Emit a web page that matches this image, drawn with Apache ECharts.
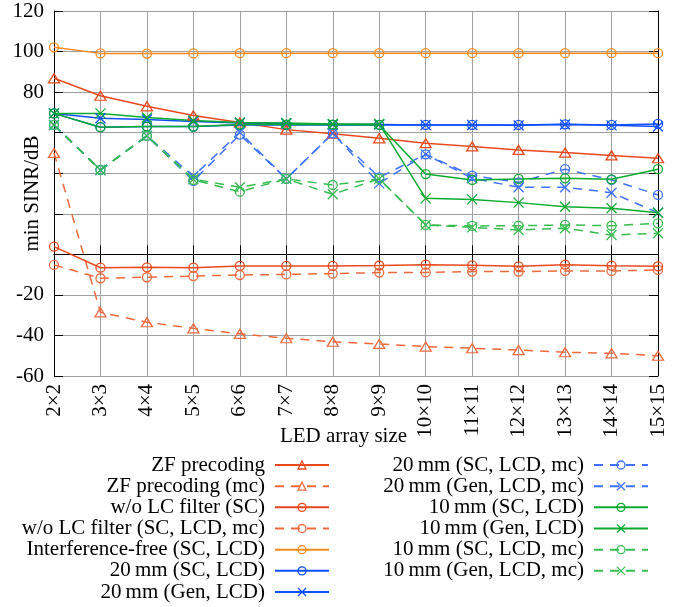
<!DOCTYPE html>
<html>
<head>
<meta charset="utf-8">
<script src="https://cdn.jsdelivr.net/npm/echarts@6/dist/echarts.min.js"></script>
<style>html,body{margin:0;padding:0;background:#fff}#c{width:695px;height:607px}</style>
</head>
<body>
<div id="c"></div>
<script>
const categories = ['2×2','3×3','4×4','5×5','6×6','7×7','8×8','9×9','10×10','11×11','12×12','13×13','14×14','15×15'];
const yTicks = [-60,-40,-20,0,20,40,60,80,100,120];
const yTickLabelsShown = [-60,-40,-20,80,100,120];

const zf        = [86.8,78.2,73.0,68.5,65.0,61.5,59.5,57.2,54.8,53.2,51.5,50.2,48.8,47.4];
const zfMc      = [50.0,-28.6,-33.5,-36.5,-39.2,-41.4,-43.1,-44.2,-45.5,-46.3,-47.2,-48.3,-48.8,-50.0];
const woLc      = [3.8,-6.6,-6.4,-6.6,-5.7,-5.7,-5.7,-5.5,-5.1,-5.4,-5.9,-5.1,-5.6,-5.9];
const woLcMc    = [-5.2,-11.8,-11.3,-10.7,-10.2,-9.9,-9.5,-9.0,-8.9,-8.5,-8.5,-8.2,-8.2,-7.7];
const intFree   = [102.1,99.1,99.0,99.1,99.2,99.2,99.2,99.2,99.2,99.2,99.2,99.2,99.2,99.2];
const mm20Sc    = [69.5,62.7,63.0,63.0,63.8,63.8,63.8,63.8,63.8,63.8,63.8,64.1,63.8,64.3];
const mm20Gen   = [69.5,67.1,66.5,65.5,64.8,64.5,64.0,64.0,63.8,63.8,63.6,64.0,63.6,63.0];
const mm20ScMc  = [63.8,41.6,58.4,36.2,59.0,37.2,59.7,38.0,49.3,38.8,35.5,42.0,36.7,29.3];
const mm20GenMc = [63.8,41.6,58.4,38.5,60.2,37.2,59.7,35.0,49.3,37.5,33.1,33.1,30.4,20.5];
const mm10Sc    = [69.5,62.7,63.0,63.0,64.0,64.0,64.0,63.8,39.6,36.7,37.2,37.5,37.0,42.0];
const mm10Gen   = [69.5,69.5,67.5,66.0,65.0,64.8,64.3,64.3,27.6,27.1,25.5,23.5,22.7,20.5];
const mm10ScMc  = [63.8,41.6,58.4,36.7,30.9,37.2,34.2,37.2,14.5,14.0,14.1,14.5,14.1,15.3];
const mm10GenMc = [63.8,41.6,58.4,37.0,33.1,37.2,29.6,37.2,14.5,13.3,12.0,12.9,9.5,10.4];

const names = ['ZF precoding','ZF precoding (mc)','w/o LC filter (SC)','w/o LC filter (SC, LCD, mc)',
  'Interference-free (SC, LCD)','20\u2009mm (SC, LCD)','20\u2009mm (Gen, LCD)',
  '20\u2009mm (SC, LCD, mc)','20\u2009mm (Gen, LCD, mc)','10\u2009mm (SC, LCD)','10\u2009mm (Gen, LCD)',
  '10\u2009mm (SC, LCD, mc)','10\u2009mm (Gen, LCD, mc)'];

const FONT = 'Liberation Serif';
const FS = 21;
const RED = '#e8491d', RED_D = '#ee6a3c', ORANGE = '#ff8a1c', BLUE = '#0f4fff', BLUE_D = '#3d72ff', GREEN = '#0aab2e', GREEN_D = '#36bd50';
const TRI = 'triangle', CIR = 'circle', XM = 'path://M0,0L10,10M10,0L0,10';
const sizeOf = {triangle:[11,9], circle:9};

function mk(name, data, color, sym, dashed) {
  return {
    name, type:'line', data, symbol: sym,
    symbolSize: sym === XM ? 10 : sizeOf[sym],
    showAllSymbol: true,
    lineStyle: {color, width: 1.5, type: dashed ? [9,7] : 'solid'},
    itemStyle: {color: 'rgba(0,0,0,0)', borderColor: color, borderWidth: 1.3},
    emphasis: {disabled: true},
    xAxisIndex: 0, yAxisIndex: 0
  };
}

const series = [
  mk(names[0], zf, RED, TRI, false),
  mk(names[1], zfMc, RED_D, TRI, true),
  mk(names[2], woLc, RED, CIR, false),
  mk(names[3], woLcMc, RED_D, CIR, true),
  mk(names[4], intFree, ORANGE, CIR, false),
  mk(names[5], mm20Sc, BLUE, CIR, false),
  mk(names[6], mm20Gen, BLUE, XM, false),
  mk(names[7], mm20ScMc, BLUE_D, CIR, true),
  mk(names[8], mm20GenMc, BLUE_D, XM, true),
  mk(names[9], mm10Sc, GREEN, CIR, false),
  mk(names[10], mm10Gen, GREEN, XM, false),
  mk(names[11], mm10ScMc, GREEN_D, CIR, true),
  mk(names[12], mm10GenMc, GREEN_D, XM, true)
];

const legendCommon = {
  orient:'vertical', align:'right', padding:0, itemWidth:54, itemHeight:10, itemGap:0.17,
  selectedMode:false, top:454.5,
  itemStyle:{borderWidth:1.3},
  textStyle:{fontFamily:FONT, fontSize:FS, color:'#000', lineHeight:21, padding:[0,5,0,0]}
};

const chart = echarts.init(document.getElementById('c'), null, {renderer:'canvas'});
chart.setOption({
  animation:false,
  backgroundColor:'#fff',
  textStyle:{fontFamily:FONT},
  grid:{left:54, right:37, top:11, bottom:231, containLabel:false, outerBoundsMode:'none'},
  legend:[
    Object.assign({}, legendCommon, {right:365, data:names.slice(0,7)}),
    Object.assign({}, legendCommon, {right:46, data:names.slice(7)})
  ],
  xAxis:[{
    type:'category', data:categories, boundaryGap:false, position:'bottom',
    name:'LED array size', nameLocation:'middle', nameGap:50, nameMoveOverlap:false,
    nameTextStyle:{fontFamily:FONT, fontSize:FS, color:'#000', padding:[0,25,0,0]},
    axisLine:{lineStyle:{color:'#000', width:1}},
    axisTick:{inside:true, length:9, alignWithLabel:true, lineStyle:{color:'#000'}},
    axisLabel:{rotate:90, margin:8, fontFamily:FONT, fontSize:FS, color:'#000', interval:0},
    splitLine:{show:true, lineStyle:{color:'#a0a0a0', width:1}}
  },{
    type:'category', data:categories, boundaryGap:false, position:'top',
    axisLine:{lineStyle:{color:'#000', width:1}},
    axisTick:{inside:true, length:9, lineStyle:{color:'#000'}},
    axisLabel:{show:false}, splitLine:{show:false}
  }],
  yAxis:[{
    type:'value', min:yTicks[0], max:yTicks[yTicks.length-1], interval:20,
    name:'min SINR/dB', nameLocation:'middle', nameGap:11, nameMoveOverlap:false,
    nameTextStyle:{fontFamily:FONT, fontSize:FS, color:'#000'},
    axisLine:{show:true, lineStyle:{color:'#000', width:1}},
    axisTick:{show:true, inside:true, length:9, lineStyle:{color:'#000'}},
    axisLabel:{margin:10, fontFamily:FONT, fontSize:FS, color:'#000',
      formatter: v => yTickLabelsShown.indexOf(v) >= 0 ? String(v) : ''},
    splitLine:{show:true, lineStyle:{color:'#a0a0a0', width:1}}
  },{
    type:'value', min:yTicks[0], max:yTicks[yTicks.length-1], interval:20, position:'right',
    axisLine:{show:true, lineStyle:{color:'#000', width:1}},
    axisTick:{show:true, inside:true, length:9, lineStyle:{color:'#000'}},
    axisLabel:{show:false}, splitLine:{show:false}
  }],
  series
});
</script>
</body>
</html>
